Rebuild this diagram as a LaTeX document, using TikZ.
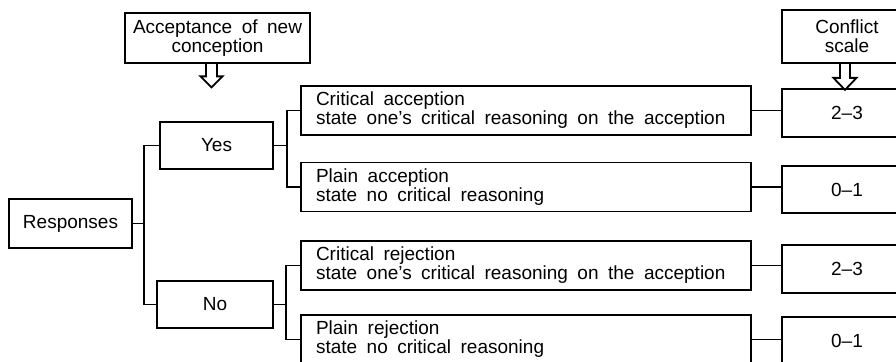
\documentclass[tikz,border=0pt]{standalone}
\usepackage{fontspec}
\setmainfont{Liberation Sans}

\begin{document}
\begin{tikzpicture}[x=0.5pt,y=-0.5pt,line width=0.9pt,
    every node/.style={font=\fontsize{9.5}{9.5}\selectfont,execute at begin node={\spaceskip=0.5em\relax}},
    box/.style={draw,inner sep=0pt,align=center},
    longbox/.style={draw,inner xsep=7.5pt,inner ysep=0pt,text width=210pt,minimum height=24.5pt,align=left},
    score/.style={draw,inner sep=0pt,minimum width=65pt,minimum height=24pt},
    hollow/.style={line width=0.9pt,line join=miter}]
    \useasboundingbox (0,0) rectangle (896,362);

    \node[box,minimum width=92.5pt,minimum height=25pt] (acc) at (217.5,38) {Acceptance of new\\conception};
    \node[box,minimum width=65pt,minimum height=26.5pt] (conf) at (847,36.5) {Conflict\\scale};

    \node[box,minimum width=61.5pt,minimum height=24.5pt] (resp) at (70.5,223.5) {Responses};
    \node[box,minimum width=56.5pt,minimum height=23.5pt] (yes) at (216.5,145.5) {Yes};
    \node[box,minimum width=58pt,minimum height=23.5pt] (no) at (215,304.5) {No};

    \node[longbox] (ca) at (526,110.5) {Critical acception\\state one's critical reasoning on the acception};
    \node[longbox] (pa) at (526,187) {Plain acception\\state no critical reasoning};
    \node[longbox] (cr) at (526,265.5) {Critical rejection\\state one's critical reasoning on the acception};
    \node[longbox] (pr) at (526,339.5) {Plain rejection\\state no critical reasoning};

    \node[score] (s1) at (847,113) {2--3};
    \node[score,minimum height=23.5pt] (s2) at (847,189.5) {0--1};
    \node[score] (s3) at (847,269) {2--3};
    \node[score] (s4) at (847,341) {0--1};

    \coordinate (rfork) at (144,223.5);
    \coordinate (yfork) at (287,145.5);
    \coordinate (nfork) at (286,304.5);
    \draw (resp.east) -- (rfork);
    \draw (yes.west) -| (rfork) |- (no.west);
    \draw (yes.east) -- (yfork);
    \draw (ca.west) -| (yfork) |- (pa.west);
    \draw (no.east) -- (nfork);
    \draw (cr.west) -| (nfork) |- (pr.west);

    \draw (ca.east) -- (ca.east -| s1.west);
    \draw (pa.east) -- (pa.east -| s2.west);
    \draw (cr.east) -- (cr.east -| s3.west);
    \draw (pr.east) -- (pr.east -| s4.west);

    \coordinate (accdown) at ([xshift=-3pt]acc.south);
    \coordinate (confdown) at ([xshift=-1pt]conf.south);
    \draw[hollow] (accdown) ++(-5.5,0) -- ++(0,12.5) -- ++(-5.5,0) -- ++(11,11) -- ++(11,-11) -- ++(-5.5,0) -- ++(0,-12.5);
    \draw[hollow] (confdown) ++(-5,0) -- ++(0,14) -- ++(-6.5,0) -- ++(11.5,12) -- ++(11.5,-12) -- ++(-6.5,0) -- ++(0,-14);
\end{tikzpicture}
\end{document}
